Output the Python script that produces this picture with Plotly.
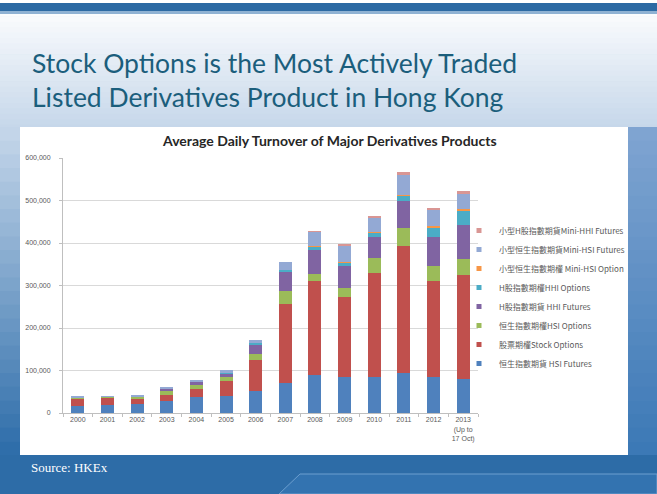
import plotly.graph_objects as go

# ---------------- data ----------------
years = ["2000", "2001", "2002", "2003", "2004", "2005", "2006", "2007",
         "2008", "2009", "2010", "2011", "2012", "2013<br>(Up to<br>17 Oct)"]

hsi_futures      = [17000, 20000, 21000, 28000, 37000, 41000, 51000, 71000, 89000, 84000, 84000, 94000, 84000, 81000]
stock_options    = [18000, 16000, 13000, 15000, 20000, 34000, 74000, 185000, 222000, 188000, 245000, 300000, 226000, 244000]
hsi_options      = [2000, 2000, 3000, 8000, 8000, 10000, 15000, 30000, 16000, 22000, 36000, 41000, 37000, 38000]
hhi_futures      = [0, 0, 0, 6000, 8000, 9000, 19000, 45000, 57000, 51000, 49000, 63000, 66000, 80000]
hhi_options      = [0, 0, 0, 0, 500, 1000, 5000, 6000, 8000, 9000, 11000, 14000, 24000, 32000]
mini_hsi_option  = [0, 0, 0, 0, 0, 0, 0, 0, 1000, 1500, 1500, 2000, 4000, 5000]
mini_hsi_futures = [1000, 2000, 5000, 4000, 4000, 6000, 7000, 18000, 33000, 38000, 33000, 47000, 37000, 35000]
mini_hhi_futures = [0, 0, 0, 0, 0, 0, 0, 0, 2000, 2000, 3000, 5000, 4000, 8000]

series_names = [
    "恒生指數期貨 HSI Futures",
    "股票期權Stock Options",
    "恒生指數期權HSI Options",
    "H股指數期貨 HHI Futures",
    "H股指數期權HHI Options",
    "小型恒生指數期權 Mini-HSI Option",
    "小型恒生指數期貨Mini-HSI Futures",
    "小型H股指數期貨Mini-HHI Futures",
]
series_values = [hsi_futures, stock_options, hsi_options, hhi_futures,
                 hhi_options, mini_hsi_option, mini_hsi_futures, mini_hhi_futures]
series_colors = ["#4F81BD", "#C0504D", "#9BBB59", "#8064A2",
                 "#4BACC6", "#F79646", "#93A9D4", "#D99694"]

y_ticks = [0, 100000, 200000, 300000, 400000, 500000, 600000]
y_ticklabels = ["0", "100,000", "200,000", "300,000", "400,000", "500,000", "600,000"]

# ---------------- geometry helpers (page pixels -> paper coords) ----------------
W, H = 657, 494
L, R, T, B = 63, 478, 158, 413


def px(x):
    return (x - L) / (R - L)


def py(y):
    return (B - y) / (B - T)


def lerp(c1, c2, t):
    a = [int(c1[i:i + 2], 16) for i in (1, 3, 5)]
    b = [int(c2[i:i + 2], 16) for i in (1, 3, 5)]
    return "#" + "".join("%02x" % round(a[k] + (b[k] - a[k]) * t) for k in range(3))


shapes = []


def rect(x0, y0, x1, y1, color, layer="below"):
    shapes.append(dict(type="rect", xref="paper", yref="paper",
                       x0=px(x0), x1=px(x1), y0=py(y1), y1=py(y0),
                       fillcolor=color, line=dict(width=0), layer=layer))


# top gradient background
n = 24
for i in range(n):
    y0 = 0 + i * (130 / n)
    y1 = y0 + 130 / n + 0.6
    rect(0, y0, W, y1, lerp("#FFFFFF", "#C6D7EA", i / (n - 1)))

# left strip gradient
for i in range(n):
    y0 = 127 + i * (328 / n)
    y1 = y0 + 328 / n + 0.6
    rect(0, y0, 20, y1, lerp("#C3D5E9", "#2F6EAA", i / (n - 1)))

# right strip gradient
for i in range(n):
    y0 = 127 + i * (328 / n)
    y1 = y0 + 328 / n + 0.6
    rect(628, y0, W, y1, lerp("#7FA4D1", "#3C79B6", i / (n - 1)))

# top dark bar
rect(0, 3, W, 11, "#2C6AA3")
rect(0, 11, W, 14, "#8FB2D3")

# bottom band
rect(0, 455, W, H, "#2D6CA7")
shapes.append(dict(type="path", xref="paper", yref="paper",
                   path="M %f %f L %f %f L %f %f L %f %f Z" % (
                       px(300), py(474), px(W), py(474), px(W), py(H), px(279), py(H)),
                   fillcolor="#3373B0", line=dict(color="#6D9FCF", width=1), layer="below"))

# white chart box
rect(20, 127, 628, 455, "#FFFFFF")

# ---------------- figure ----------------
fig = go.Figure()

for name, vals, col in zip(series_names, series_values, series_colors):
    fig.add_trace(go.Bar(x=years, y=vals, name=name, marker=dict(color=col, line=dict(width=0)),
                         legendgroup=name, showlegend=False))

for name, col in zip(series_names, series_colors):
    fig.add_trace(go.Scatter(x=[None], y=[None], mode="markers", name=name, legendgroup=name,
                             marker=dict(symbol="square", size=5, color=col), showlegend=True))

annotations = [
    dict(text="Stock Options is the Most Actively Traded<br>Listed Derivatives Product in Hong Kong",
         xref="paper", yref="paper", x=px(30), y=py(45), xanchor="left", yanchor="top", align="left",
         showarrow=False, font=dict(family="Lato", size=26.5, color="#1B5E7C")),
    dict(text="<b>Average Daily Turnover of Major Derivatives Products</b>",
         xref="paper", yref="paper", x=px(329), y=py(140), xanchor="center", yanchor="middle",
         showarrow=False, font=dict(family="Lato", size=14, color="#262626")),
    dict(text="Source: HKEx",
         xref="paper", yref="paper", x=px(29), y=py(467), xanchor="left", yanchor="middle",
         showarrow=False, font=dict(family="Liberation Serif", size=13, color="#FFFFFF")),
]

fig.update_layout(
    width=W, height=H,
    margin=dict(l=L, r=W - R, t=T, b=H - B, pad=0),
    paper_bgcolor="#C6D7EA",
    plot_bgcolor="#FFFFFF",
    barmode="stack",
    bargap=0.56,
    shapes=shapes,
    annotations=annotations,
    showlegend=True,
    legend=dict(x=px(459), y=py(297), xanchor="left", yanchor="middle",
                traceorder="reversed", bgcolor="rgba(0,0,0,0)",
                font=dict(family="Noto Sans CJK TC", size=8, color="#595959"),
                itemwidth=30, tracegroupgap=0),
    xaxis=dict(type="category", showgrid=False, showline=True, linecolor="#BFBFBF", linewidth=1,
               ticks="outside", tickson="boundaries", ticklen=3, tickcolor="#BFBFBF",
               tickangle=0,
               tickfont=dict(family="Liberation Sans", size=7, color="#595959"),
               fixedrange=True),
    yaxis=dict(range=[0, 600000], tickvals=y_ticks, ticktext=y_ticklabels,
               showgrid=True, gridcolor="#D9D9D9", gridwidth=1,
               showline=True, linecolor="#BFBFBF", ticks="outside", ticklen=3, tickcolor="#BFBFBF",
               ticklabelstandoff=7,
               tickfont=dict(family="Liberation Sans", size=7, color="#595959"),
               zeroline=False, fixedrange=True),
    font=dict(family="Liberation Sans"),
)

fig.write_html("out.html")
